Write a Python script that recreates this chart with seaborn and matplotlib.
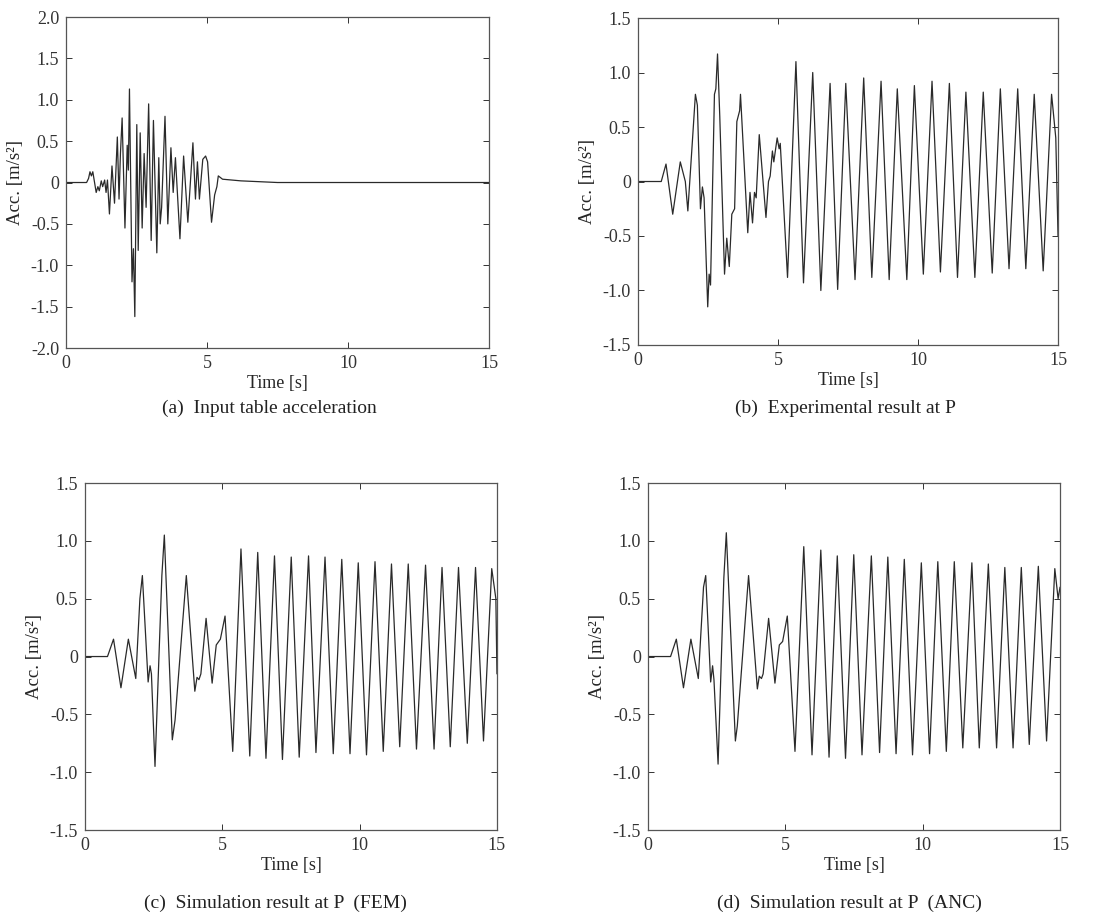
import matplotlib
matplotlib.use("Agg")
import matplotlib.pyplot as plt
import seaborn as sns
import pandas as pd

# -----------------------------------
# Data (turning points of each record)
# -----------------------------------
# (a) input table acceleration
t_a = [0, 0.73, 0.80, 0.85, 0.90, 0.95, 1.07, 1.13, 1.18, 1.25, 1.30, 1.37, 1.42, 1.47, 1.54, 1.63,
       1.72, 1.82, 1.88, 1.93, 1.99, 2.09, 2.17, 2.21, 2.25, 2.34, 2.39, 2.44, 2.51, 2.56, 2.63, 2.70,
       2.77, 2.84, 2.93, 3.02, 3.10, 3.22, 3.29, 3.34, 3.39, 3.51, 3.61, 3.72, 3.80, 3.88, 4.04, 4.17,
       4.32, 4.50, 4.59, 4.66, 4.73, 4.85, 4.95, 5.02, 5.16, 5.27, 5.35, 5.40, 5.55, 6.20, 7.50, 15.0]
acc_a = [0, 0, 0.05, 0.13, 0.08, 0.13, -0.12, -0.05, -0.10, 0.02, -0.05, 0.03, -0.12, 0.03, -0.38, 0.20,
         -0.25, 0.55, -0.20, 0.35, 0.78, -0.55, 0.45, 0.15, 1.13, -1.20, -0.80, -1.62, 0.70, -0.82, 0.60, -0.55,
         0.35, -0.30, 0.95, -0.70, 0.75, -0.85, 0.30, -0.50, -0.30, 0.80, -0.50, 0.42, -0.12, 0.30, -0.68, 0.32,
         -0.48, 0.48, -0.20, 0.25, -0.20, 0.28, 0.32, 0.25, -0.48, -0.15, -0.05, 0.08, 0.04, 0.02, 0.0, 0.0]

# (b) experimental result at P
t_b = [0, 0.83, 1.00, 1.24, 1.51, 1.69, 1.78, 1.95, 2.05, 2.12, 2.23, 2.30, 2.36, 2.49, 2.54, 2.59,
       2.73, 2.78, 2.84, 2.92, 3.09, 3.17, 3.26, 3.35, 3.45, 3.53, 3.63, 3.66, 3.92, 4.00, 4.09, 4.16,
       4.22, 4.33, 4.57, 4.66, 4.72, 4.80, 4.85, 4.97, 5.04, 5.08, 5.34, 5.64, 5.91, 6.24, 6.53, 6.86,
       7.13, 7.42, 7.75, 8.06, 8.35, 8.68, 8.97, 9.26, 9.60, 9.87, 10.19, 10.50, 10.80, 11.12, 11.41,
       11.71, 12.03, 12.33, 12.65, 12.94, 13.25, 13.56, 13.85, 14.15, 14.47, 14.77, 14.92, 15.0]
acc_b = [0, 0, 0.16, -0.30, 0.18, 0.0, -0.27, 0.40, 0.80, 0.70, -0.25, -0.05, -0.15, -1.15, -0.85, -0.95,
         0.80, 0.85, 1.17, 0.60, -0.85, -0.52, -0.78, -0.30, -0.25, 0.55, 0.65, 0.80, -0.47, -0.10, -0.38, -0.10,
         -0.15, 0.43, -0.33, 0.00, 0.05, 0.28, 0.18, 0.40, 0.30, 0.35, -0.88, 1.10, -0.93, 1.00, -1.00, 0.90,
         -0.99, 0.90, -0.90, 0.95, -0.88, 0.92, -0.90, 0.85, -0.90, 0.88, -0.85, 0.92, -0.83, 0.90, -0.88,
         0.82, -0.88, 0.82, -0.84, 0.85, -0.80, 0.85, -0.80, 0.80, -0.82, 0.80, 0.40, -0.50]

# (c) simulation result at P (FEM)
t_c = [0, 0.82, 1.04, 1.31, 1.58, 1.85, 2.00, 2.09, 2.30, 2.37, 2.42, 2.55, 2.80, 2.89, 3.18, 3.28,
       3.69, 4.00, 4.08, 4.15, 4.22, 4.41, 4.63, 4.78, 4.93, 5.10, 5.38, 5.68, 6.00, 6.29, 6.59, 6.90,
       7.19, 7.51, 7.80, 8.14, 8.41, 8.74, 9.04, 9.35, 9.65, 9.95, 10.25, 10.56, 10.86, 11.16, 11.46,
       11.77, 12.07, 12.40, 12.71, 13.00, 13.30, 13.60, 13.92, 14.22, 14.51, 14.81, 14.96, 15.0]
acc_c = [0, 0, 0.15, -0.27, 0.15, -0.19, 0.50, 0.70, -0.22, -0.08, -0.15, -0.95, 0.70, 1.05, -0.72, -0.55,
         0.70, -0.30, -0.18, -0.20, -0.15, 0.33, -0.23, 0.10, 0.15, 0.35, -0.82, 0.93, -0.86, 0.90, -0.88, 0.87,
         -0.89, 0.86, -0.87, 0.87, -0.83, 0.86, -0.84, 0.84, -0.84, 0.81, -0.85, 0.82, -0.82, 0.80, -0.78,
         0.80, -0.80, 0.79, -0.80, 0.77, -0.78, 0.77, -0.75, 0.77, -0.73, 0.76, 0.50, -0.15]

# (d) simulation result at P (ANC)
t_d = [0, 0.82, 1.03, 1.29, 1.56, 1.83, 2.02, 2.10, 2.28, 2.35, 2.40, 2.55, 2.76, 2.85, 3.18, 3.25,
       3.66, 3.98, 4.05, 4.13, 4.19, 4.39, 4.62, 4.78, 4.90, 5.07, 5.35, 5.67, 5.97, 6.29, 6.59, 6.89,
       7.19, 7.49, 7.79, 8.13, 8.43, 8.73, 9.03, 9.33, 9.63, 9.95, 10.25, 10.55, 10.86, 11.15, 11.46,
       11.79, 12.06, 12.39, 12.69, 12.99, 13.29, 13.59, 13.88, 14.21, 14.51, 14.81, 14.93, 15.0]
acc_d = [0, 0, 0.15, -0.27, 0.15, -0.19, 0.60, 0.70, -0.22, -0.08, -0.20, -0.93, 0.68, 1.07, -0.73, -0.60,
         0.70, -0.28, -0.17, -0.19, -0.15, 0.33, -0.23, 0.10, 0.13, 0.35, -0.82, 0.95, -0.85, 0.92, -0.87, 0.87,
         -0.88, 0.88, -0.85, 0.87, -0.83, 0.86, -0.84, 0.84, -0.85, 0.81, -0.84, 0.82, -0.82, 0.82, -0.79,
         0.81, -0.79, 0.80, -0.79, 0.77, -0.79, 0.77, -0.76, 0.78, -0.73, 0.76, 0.50, 0.60]

x_ticks = [0, 5, 10, 15]
y_ticks_a = [-2.0, -1.5, -1.0, -0.5, 0, 0.5, 1.0, 1.5, 2.0]
y_labels_a = ["-2.0", "-1.5", "-1.0", "-0.5", "0", "0.5", "1.0", "1.5", "2.0"]
y_ticks_p = [-1.5, -1.0, -0.5, 0, 0.5, 1.0, 1.5]
y_labels_p = ["-1.5", "-1.0", "-0.5", "0", "0.5", "1.0", "1.5"]

captions = ["(a)  Input table acceleration",
            "(b)  Experimental result at P",
            "(c)  Simulation result at P  (FEM)",
            "(d)  Simulation result at P  (ANC)"]

# -----------------------------------
# Style
# -----------------------------------
sns.set_theme(style="ticks")
plt.rcParams["font.family"] = ["Liberation Serif", "DejaVu Serif"]
plt.rcParams["axes.unicode_minus"] = False

fig = plt.figure(figsize=(11.15, 9.19), dpi=100)

# axes boxes in figure fractions [left, bottom, width, height]
boxes = [[0.0592, 0.6213, 0.3794, 0.3602],
         [0.5722, 0.6246, 0.3767, 0.3558],
         [0.0762, 0.0968, 0.3695, 0.3776],
         [0.5812, 0.0968, 0.3695, 0.3776]]
caption_pos = [(0.242, 0.556), (0.758, 0.556), (0.247, 0.017), (0.762, 0.017)]

series = [(t_a, acc_a, y_ticks_a, y_labels_a, (-2.0, 2.0)),
          (t_b, acc_b, y_ticks_p, y_labels_p, (-1.5, 1.5)),
          (t_c, acc_c, y_ticks_p, y_labels_p, (-1.5, 1.5)),
          (t_d, acc_d, y_ticks_p, y_labels_p, (-1.5, 1.5))]

for i, (t, acc, yt, yl, ylim) in enumerate(series):
    ax = fig.add_axes(boxes[i])
    df = pd.DataFrame({"time": t, "acc": acc})
    sns.lineplot(data=df, x="time", y="acc", ax=ax, color="#2a2a2a",
                 linewidth=0.9, estimator=None, sort=False)
    ax.set_xlim(0, 15)
    ax.set_ylim(*ylim)
    ax.set_xticks(x_ticks)
    ax.set_xticklabels([str(v) for v in x_ticks])
    ax.set_yticks(yt)
    ax.set_yticklabels(yl)
    ax.tick_params(direction="in", length=4, width=0.7, top=True, right=True,
                   labelsize=13, colors="#333333", pad=5)
    for s in ax.spines.values():
        s.set_color("#555555")
        s.set_linewidth(0.9)
    ax.set_xlabel("Time [s]", fontsize=13, labelpad=2)
    ax.set_ylabel("Acc. [m/s²]", fontsize=13.5, labelpad=5)
    fig.text(caption_pos[i][0], caption_pos[i][1], captions[i], ha="center", va="center",
             fontsize=14, color="#222222")

plt.savefig("out.png", dpi=100)
